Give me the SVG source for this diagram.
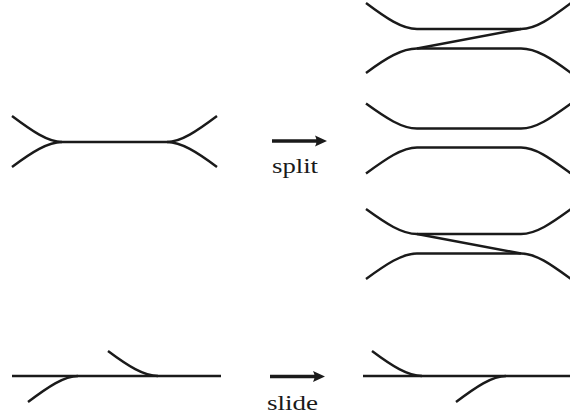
<svg xmlns="http://www.w3.org/2000/svg" width="570" height="415" viewBox="0 0 570 415">
<defs>
<style>
.ln{fill:none;stroke:#1a1a1a;stroke-width:2.4;stroke-linecap:butt}
.ar{fill:none;stroke:#1a1a1a;stroke-width:3.4}
.hd{fill:#1a1a1a;stroke:none}
.lbl{font-family:"Liberation Serif","Times New Roman",serif;font-size:22px;fill:#1a1a1a;text-anchor:middle}
</style>
</defs>
<rect width="570" height="415" fill="#ffffff"/>
<g id="vertex-left">
<path class="ln" d="M12,116 C32,131 48,142 62,142 L167,142 C181,142 197,131 217,116"/>
<path class="ln" d="M12,167 C32,152 48,142 62,142 M167,142 C181,142 197,152 217,167"/>
</g>
<g id="split-result-1">
<path class="ln" d="M366,3 C386,18 402,29 417,29 L521,29 C536,29 551,18 571,3"/>
<path class="ln" d="M366,73 C386,58 402,48.5 417,48.5 L521,48.5 C536,48.5 551,58 571,73"/>
<path class="ln" d="M417,48.5 L521,29"/>
</g>
<g id="split-result-2">
<path class="ln" d="M366,103.5 C386,118 402,128.5 417,128.5 L521,128.5 C536,128.5 551,118 571,103.5"/>
<path class="ln" d="M366,173.5 C386,159 402,147.5 417,147.5 L521,147.5 C536,147.5 551,159 571,173.5"/>
</g>
<g id="split-result-3">
<path class="ln" d="M366,209 C386,223.5 402,234 417,234 L521,234 C536,234 551,223.5 571,209"/>
<path class="ln" d="M366,279 C386,264.5 402,253.5 417,253.5 L521,253.5 C536,253.5 551,264.5 571,279"/>
<path class="ln" d="M417,234 L521,253.5"/>
</g>
<g id="slide-left">
<path class="ln" d="M12,376 L221,376"/>
<path class="ln" d="M28,402 C48,387 64,376 78,376"/>
<path class="ln" d="M108,351 C128,366 144,376 158,376"/>
</g>
<g id="slide-right">
<path class="ln" d="M363,376 L571,376"/>
<path class="ln" d="M372,351 C392,366 408,376 422,376"/>
<path class="ln" d="M456,402 C476,387 492,376 506,376"/>
</g>
<g id="connectors">
<path class="ar" d="M272,141 L318,141"/>
<path class="hd" d="M327,141 L315,135.5 Q318,141 315,146.5 Z"/>
<path class="ar" d="M270,376.5 L316,376.5"/>
<path class="hd" d="M325,376.5 L313,371 Q316,376.5 313,382 Z"/>
</g>
<g id="labels">
<text class="lbl" x="295" y="173" textLength="46" lengthAdjust="spacingAndGlyphs">split</text>
<text class="lbl" x="292.5" y="410" textLength="51" lengthAdjust="spacingAndGlyphs">slide</text>
</g>
</svg>
